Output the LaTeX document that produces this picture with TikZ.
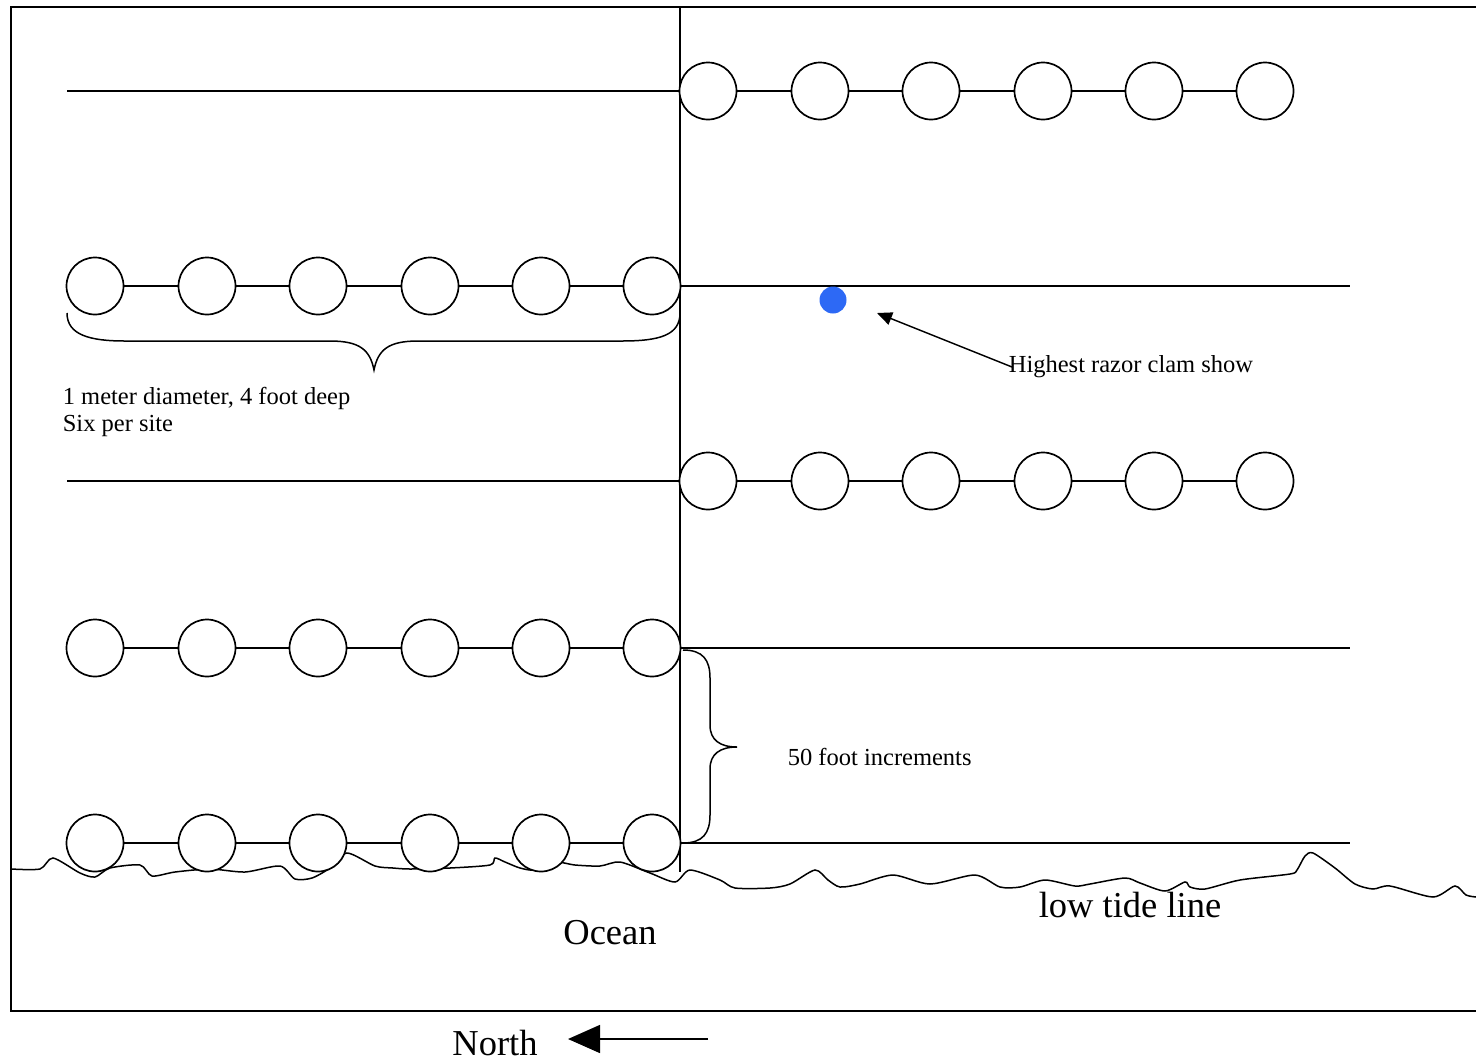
\documentclass[tikz,border=0pt]{standalone}
\usepackage{fontspec}
\setmainfont{Liberation Serif}
\usetikzlibrary{arrows.meta}
\definecolor{clamblue}{RGB}{45,105,245}
\begin{document}
\begin{tikzpicture}[x=1pt,y=-1pt,
  line width=1.7pt,
  hole/.style={circle,draw,fill=white,minimum size=57pt,inner sep=0pt,line width=1.7pt},
  small/.style={font=\fontsize{24.5}{27}\selectfont,inner sep=0pt},
  big/.style={font=\fontsize{36.5}{40}\selectfont,inner sep=0pt}]
\useasboundingbox (0,0) rectangle (1476,1061);
% frame
\draw (1476,7) -- (11,7) -- (11,1011) -- (1476,1011);
% centre line
\coordinate (vtop) at (680,7);
\coordinate (vbot) at (680,872);
\draw (vtop) -- (vbot);
% line end coordinates
\coordinate (L1) at (67,91);
\coordinate (R2) at (1350,286);
\coordinate (L3) at (67,481);
\coordinate (R4) at (1350,648);
\coordinate (R5) at (1350,843);
\coordinate (C2) at (680,286);
\coordinate (C4) at (680,648);
\coordinate (C5) at (680,843);
\coordinate (C1) at (680,91);
\coordinate (C3) at (680,481);
% plain lines
\draw (L1) -- (C1);
\draw (C2) -- (R2);
\draw (L3) -- (C3);
\draw (C4) -- (R4);
\draw (C5) -- (R5);
% ground / low tide line
\draw[line width=1.5pt] plot[smooth,tension=0.45] coordinates {
 (11,869) (40,869) (53,858) (80,873) (95,877) (110,868) (140,865) (152,876)
 (175,872) (210,869) (245,872) (280,866) (295,879) (312,878) (330,868) (347,853)
 (375,866) (393,868) (410,869) (450,868) (490,865) (495,858) (505,862) (520,868)
 (535,870) (555,862) (575,865) (600,866) (620,862) (650,873) (675,882) (690,870)
 (720,880) (735,888) (770,888) (790,884) (815,870) (828,880) (840,887) (860,884)
 (893,875) (930,884) (975,875) (1000,887) (1020,887) (1045,880) (1075,886)
 (1090,884) (1125,878) (1140,883) (1165,891) (1185,882) (1190,887) (1205,889)
 (1240,880) (1290,874) (1297,870) (1305,856) (1313,853) (1335,868) (1355,884)
 (1373,889) (1390,886) (1433,897) (1455,886) (1466,895) (1476,897)};
% rows of holes
\foreach \i/\x in {1/708,2/820,3/931,4/1043,5/1154,6/1265}{
  \node[hole] (a\i) at (\x,91) {};
  \node[hole] (c\i) at (\x,481) {};
}
\foreach \i/\x in {1/95,2/207,3/318,4/430,5/541,6/652}{
  \node[hole] (b\i) at (\x,286) {};
  \node[hole] (d\i) at (\x,648) {};
  \node[hole] (e\i) at (\x,843) {};
}
\foreach \r in {a,b,c,d,e}{
  \foreach \i/\j in {1/2,2/3,3/4,4/5,5/6}{
    \draw (\r\i) -- (\r\j);
  }
}
% horizontal brace under top-left row
\draw[line width=1.5pt] (67,313) .. controls (67,335) and (90,341) .. (125,341)
  -- (330,341) .. controls (360,341) and (370,350) .. (374,370)
  .. controls (378,350) and (388,341) .. (418,341)
  -- (622,341) .. controls (660,341) and (680,335) .. (680,313);
\node[small,anchor=north west,align=left] (holes) at (62,386)
  {1 meter diameter, 4 foot deep\\Six per site};
% vertical brace
\draw[line width=1.5pt] (683,650) .. controls (703,650) and (710,660) .. (710,678)
  -- (710,725) .. controls (710,740) and (720,747) .. (737,747)
  .. controls (720,747) and (710,754) .. (710,769)
  -- (710,815) .. controls (710,833) and (703,843) .. (683,843);
\node[small,anchor=west] (incr) at (787,757) {50 foot increments};
% clam show
\node[circle,fill=clamblue,minimum size=27pt,inner sep=0pt] (clam) at (833,300) {};
\node[small,anchor=west] (clamlabel) at (1008,367) {Highest razor clam show};
\coordinate (arrtip) at (877,313);
\draw[-{Triangle[length=15pt,width=13pt]},line width=1.4pt] (clamlabel.west) ++(4,0) -- (arrtip);
% bottom labels
\node[big] (ocean) at (610,933) {Ocean};
\node[big] (tide) at (1130,905) {low tide line};
\node[big] (north) at (495,1043) {North};
\coordinate (ntail) at (708,1039);
\coordinate (nhead) at (568,1039);
\draw[-{Triangle[length=32pt,width=28pt]},line width=1.6pt] (ntail) -- (nhead);
\end{tikzpicture}
\end{document}
